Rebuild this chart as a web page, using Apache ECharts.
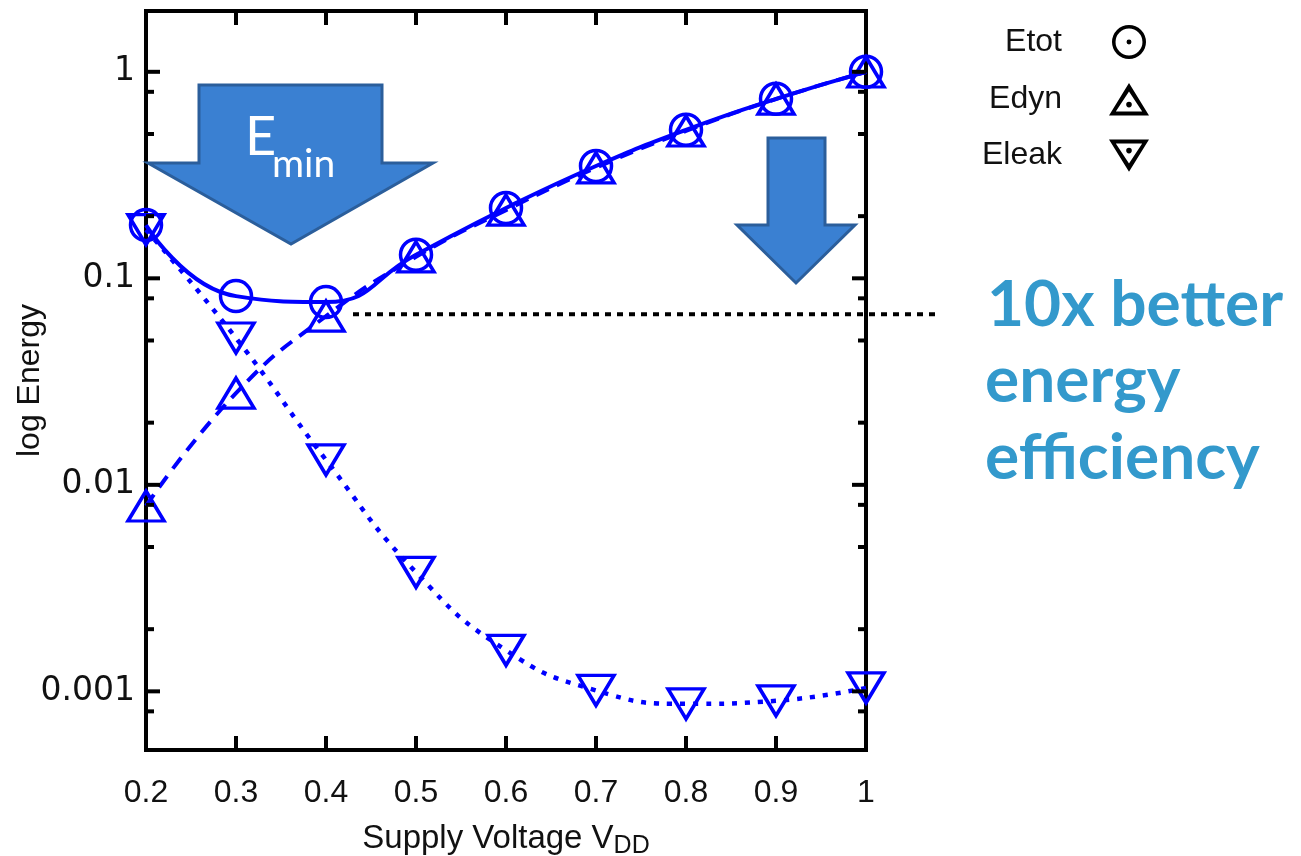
<!DOCTYPE html>
<html>
<head>
<meta charset="utf-8">
<script src="https://cdn.jsdelivr.net/npm/echarts@6/dist/echarts.min.js"></script>
<style>
  html, body { margin: 0; padding: 0; background: #ffffff; }
  #chart { width: 1301px; height: 856px; }
</style>
</head>
<body>
<div id="chart"></div>
<script>
// Supply voltage sweep and the three energy components (normalised to Etot at 1 V)
const voltages = [0.2, 0.3, 0.4, 0.5, 0.6, 0.7, 0.8, 0.9, 1.0];
const eTot  = [0.181, 0.082, 0.0767, 0.130, 0.219, 0.350, 0.524, 0.740, 1.0];
const eDyn  = [0.0079, 0.0278, 0.0656, 0.127, 0.214, 0.343, 0.517, 0.738, 0.998];
const eLeak = [0.172, 0.0514, 0.0132, 0.00377, 0.00158, 0.00101, 0.00087, 0.00090, 0.00104];

// Axis ticks
const xTickValues = [0.3, 0.4, 0.5, 0.6, 0.7, 0.8, 0.9];
const yMajorTicks = [0.001, 0.01, 0.1, 1];
const yTickLabels = ['0.001', '0.01', '0.1', '1'];
const yMinorTicks = [0.0008, 0.002, 0.005, 0.008, 0.02, 0.05, 0.08, 0.2, 0.5, 0.8];

// Minimum-energy reference level and the span of its dotted guide
const eMinLevel = 0.067;
const eMinSpan = [0.43, 1.079];

const BLUE = '#0000ff';
const NARROW = '"Liberation Sans Narrow", "Liberation Sans", Arial, sans-serif';

const pairs = (ys) => voltages.map((v, i) => [v, ys[i]]);

// Tick specs: [x, y, kind]  kind 0 = x tick, 1 = y major, 2 = y minor
const tickData = []
  .concat(xTickValues.map(v => [v, 1, 0]))
  .concat(yMajorTicks.map(v => [voltages[0], v, 1]))
  .concat(yMinorTicks.map(v => [voltages[0], v, 2]));

// Legend icons: hollow markers with a centre dot
const iconCircle = 'path://M2,50A48,48,0,1,1,98,50A48,48,0,1,1,2,50ZM12,50A38,38,0,1,0,88,50A38,38,0,1,0,12,50ZM43,50A7,7,0,1,1,57,50A7,7,0,1,1,43,50Z';
const iconUp = 'path://M50,0L100,81L0,81ZM50,21L17,71L83,71ZM43,54A7,7,0,1,1,57,54A7,7,0,1,1,43,54Z';
const iconDown = 'path://M0,0L100,0L50,81ZM17,10L50,60L83,10ZM43,28A7,7,0,1,1,57,28A7,7,0,1,1,43,28Z';

function yLabel(v) {
  for (let i = 0; i < yMajorTicks.length; i++) {
    if (Math.abs(Math.log10(v) - Math.log10(yMajorTicks[i])) < 1e-6) return yTickLabels[i];
  }
  return '';
}

const chart = echarts.init(document.getElementById('chart'), null, { renderer: 'canvas' });

const markerStyle = { color: 'transparent', borderColor: BLUE, borderWidth: 3.5 };

const option = {
  backgroundColor: '#ffffff',
  animation: false,
  grid: {
    left: 146, right: 435, top: 11, bottom: 106,
    outerBoundsMode: 'none', containLabel: false,
    show: true, borderColor: '#000', borderWidth: 4, backgroundColor: 'transparent'
  },
  xAxis: {
    type: 'value', min: 0.2, max: 1.0, interval: 0.1,
    axisLine: { show: false }, axisTick: { show: false }, splitLine: { show: false },
    axisLabel: { margin: 27, fontFamily: NARROW, fontSize: 32, color: '#111' },
    name: 'Supply Voltage V{sub|DD}', nameLocation: 'middle', nameGap: 68, nameMoveOverlap: false,
    nameTextStyle: {
      fontFamily: NARROW, fontSize: 33, color: '#111',
      rich: { sub: { fontFamily: NARROW, fontSize: 25, color: '#111', padding: [16, 0, 0, 0] } }
    }
  },
  yAxis: {
    type: 'log', logBase: 10, min: 0.00052, max: 1.97,
    axisLine: { show: false }, axisTick: { show: false }, splitLine: { show: false },
    minorTick: { show: false }, minorSplitLine: { show: false },
    axisLabel: {
      margin: 11, fontFamily: '"DejaVu Sans", Verdana, sans-serif', fontSize: 33, color: '#111',
      formatter: yLabel, showMinLabel: true, showMaxLabel: true
    },
    name: 'log Energy', nameLocation: 'middle', nameGap: 100, nameMoveOverlap: false,
    nameTextStyle: { fontFamily: NARROW, fontSize: 32, color: '#111' }
  },
  legend: {
    orient: 'vertical', right: 147, top: 20, align: 'right',
    itemWidth: 40, itemHeight: 34, itemGap: 24, selectedMode: false,
    textStyle: { fontFamily: NARROW, fontSize: 32, color: '#111', padding: [0, 42, 0, 0] },
    data: [
      { name: 'Etot', icon: iconCircle, itemStyle: { color: '#000', borderWidth: 0 } },
      { name: 'Edyn', icon: iconUp, itemStyle: { color: '#000', borderWidth: 0 } },
      { name: 'Eleak', icon: iconDown, itemStyle: { color: '#000', borderWidth: 0 } }
    ]
  },
  series: [
    {
      name: 'Eleak', type: 'line', data: pairs(eLeak), smooth: 0.5,
      symbol: 'triangle', symbolRotate: 180, symbolSize: [36, 30],
      itemStyle: markerStyle,
      lineStyle: { color: BLUE, width: 4.5, type: [5, 8] },
      emphasis: { disabled: true }, z: 3
    },
    {
      name: 'Edyn', type: 'line', data: pairs(eDyn), smooth: 0.5,
      symbol: 'triangle', symbolSize: [36, 30],
      itemStyle: markerStyle,
      lineStyle: { color: BLUE, width: 4, type: [14, 9] },
      emphasis: { disabled: true }, z: 4
    },
    {
      name: 'Etot', type: 'line', data: pairs(eTot), smooth: 0.5,
      symbol: 'circle', symbolSize: 31,
      itemStyle: markerStyle,
      lineStyle: { color: BLUE, width: 4 },
      emphasis: { disabled: true }, z: 5
    },
    {
      // inward ticks on all four sides of the frame
      name: 'ticks', type: 'custom', data: tickData, z: 6, silent: true,
      renderItem: function (params, api) {
        const cs = params.coordSys;
        const kind = api.value(2);
        const st = { stroke: '#000', lineWidth: 4 };
        const left = cs.x, right = cs.x + cs.width, top = cs.y, bottom = cs.y + cs.height;
        if (kind === 0) {
          const px = api.coord([api.value(0), 1])[0];
          return { type: 'group', children: [
            { type: 'line', shape: { x1: px, y1: bottom, x2: px, y2: bottom - 14 }, style: st },
            { type: 'line', shape: { x1: px, y1: top, x2: px, y2: top + 14 }, style: st }
          ] };
        }
        const py = api.coord([voltages[0], api.value(1)])[1];
        const len = kind === 1 ? 14 : 8;
        return { type: 'group', children: [
          { type: 'line', shape: { x1: left, y1: py, x2: left + len, y2: py }, style: st },
          { type: 'line', shape: { x1: right, y1: py, x2: right - len, y2: py }, style: st }
        ] };
      }
    },
    {
      // dotted guide at the minimum-energy level, running out past the frame
      name: 'eMinGuide', type: 'custom', data: [[eMinSpan[0], eMinLevel, eMinSpan[1]]], z: 2, silent: true,
      clip: false,
      renderItem: function (params, api) {
        const p1 = api.coord([api.value(0), api.value(1)]);
        const p2 = api.coord([api.value(2), api.value(1)]);
        return { type: 'line', shape: { x1: p1[0], y1: p1[1], x2: p2[0], y2: p2[1] },
                 style: { stroke: '#000', lineWidth: 4, lineDash: [6, 6] } };
      }
    }
  ],
  graphic: [
    {
      type: 'polygon', z: 10,
      shape: { points: [[199, 85], [382, 85], [382, 163], [433, 163], [291, 244], [148, 163], [199, 163]] },
      style: { fill: '#3a80d2', stroke: '#2b5e9b', lineWidth: 3 }
    },
    {
      type: 'text', z: 11, x: 245, y: 138,
      style: { text: 'E', font: '54px Lato, "Open Sans", sans-serif', fill: '#ffffff', textVerticalAlign: 'middle' }
    },
    {
      type: 'text', z: 11, x: 272, y: 164,
      style: { text: 'min', font: '39px Lato, "Open Sans", sans-serif', fill: '#ffffff', textVerticalAlign: 'middle' }
    },
    {
      type: 'polygon', z: 10,
      shape: { points: [[768, 138], [825, 138], [825, 225], [855, 225], [796, 283], [737, 225], [768, 225]] },
      style: { fill: '#3a80d2', stroke: '#2b5e9b', lineWidth: 3 }
    },
    {
      type: 'text', z: 11, x: 987, y: 305,
      style: { text: '10x better', font: 'bold 64px Lato, "Open Sans", sans-serif', fill: '#3399cc', textVerticalAlign: 'middle' }
    },
    {
      type: 'text', z: 11, x: 985, y: 381,
      style: { text: 'energy', font: 'bold 64px Lato, "Open Sans", sans-serif', fill: '#3399cc', textVerticalAlign: 'middle' }
    },
    {
      type: 'text', z: 11, x: 985, y: 458,
      style: { text: 'efficiency', font: 'bold 64px Lato, "Open Sans", sans-serif', fill: '#3399cc', textVerticalAlign: 'middle' }
    }
  ]
};

chart.setOption(option);
</script>
</body>
</html>
